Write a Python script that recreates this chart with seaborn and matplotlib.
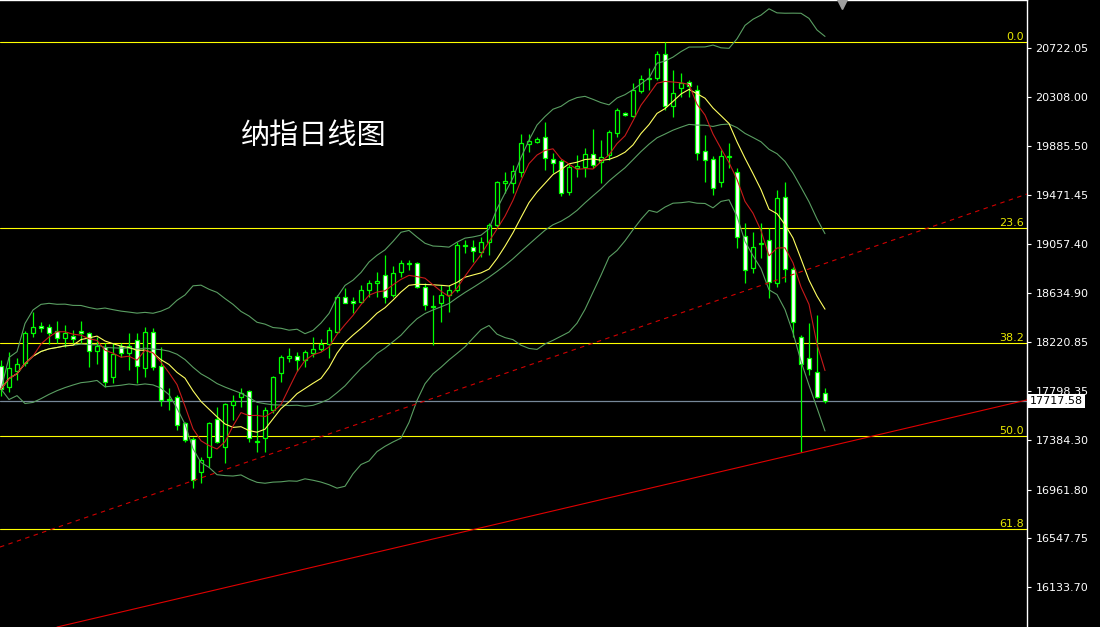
import numpy as np
import pandas as pd
import matplotlib
matplotlib.use('Agg')
import matplotlib.pyplot as plt
import matplotlib.transforms as mtransforms
import seaborn as sns

# daily candles of the index (oldest first)
opens = [18015, 17836, 17972, 18041, 18296, 18356, 18347, 18313, 18254, 18271,
         18313, 18296, 18143, 18177, 17922, 18185, 18126, 18236, 17998, 18305,
         18015, 17726, 17751, 17530, 17394, 17113, 17240, 17564, 17326, 17683,
         17751, 17802, 17368, 17402, 17640, 17956, 18083, 18100, 18066, 18126,
         18160, 18202, 18305, 18602, 18568, 18560, 18662, 18722, 18790, 18620,
         18815, 18883, 18892, 18688, 18517, 18551, 18620, 18662, 19037, 19028,
         18985, 19071, 19215, 19573, 19573, 19667, 19905, 19922, 19964, 19777,
         19760, 19496, 19700, 19709, 19820, 19752, 19811, 19999, 20169, 20143,
         20356, 20458, 20467, 20671, 20228, 20382, 20433, 20365, 19845, 19777,
         19581, 19794, 19667, 19122, 18849, 19054, 19088, 18722, 19454, 18841,
         18262, 18083, 17964, 17785]
highs = [18066, 18134, 18083, 18313, 18475, 18390, 18373, 18398, 18364, 18322,
         18398, 18305, 18262, 18211, 18211, 18211, 18296, 18296, 18347, 18339,
         18177, 17828, 17768, 17538, 17411, 17240, 17538, 17666, 17700, 17768,
         17828, 17811, 17683, 17666, 17930, 18109, 18168, 18134, 18151, 18262,
         18245, 18347, 18620, 18679, 18602, 18705, 18747, 18815, 18960, 18866,
         18917, 18917, 18900, 18722, 18620, 18705, 18705, 19071, 19088, 19088,
         19113, 19232, 19590, 19667, 19726, 19990, 19990, 19964, 20092, 19828,
         19777, 19743, 19811, 19871, 20033, 19939, 20024, 20211, 20177, 20424,
         20492, 20552, 20697, 20773, 20535, 20509, 20450, 20407, 19981, 19803,
         19854, 19913, 19701, 19232, 19156, 19232, 19190, 19513, 19581, 18858,
         18279, 18381, 18449, 17828]
lows = [17760, 17794, 17896, 18015, 18262, 18305, 18202, 18211, 18177, 18211,
        18211, 18007, 18032, 17836, 17870, 18092, 17981, 17870, 17922, 17981,
        17675, 17640, 17470, 17368, 16976, 17019, 17155, 17360, 17189, 17555,
        17666, 17368, 17283, 17283, 17615, 17879, 18049, 17972, 18007, 18092,
        18143, 18083, 18296, 18551, 18466, 18551, 18602, 18602, 18551, 18602,
        18773, 18832, 18679, 18492, 18194, 18390, 18475, 18645, 18977, 18900,
        18943, 18960, 19198, 19488, 19488, 19624, 19837, 19913, 19684, 19658,
        19462, 19471, 19624, 19624, 19701, 19573, 19769, 19964, 20143, 20135,
        20339, 20365, 20450, 20194, 20135, 20305, 20305, 19769, 19581, 19471,
        19539, 19701, 19019, 18722, 18807, 18934, 18594, 18688, 18730, 18262,
        17283, 17939, 17743, 17700]
closes = [17819, 17998, 18032, 18296, 18347, 18339, 18296, 18254, 18296, 18245,
          18296, 18143, 18185, 17879, 18117, 18126, 18185, 18015, 18305, 18007,
          17726, 17734, 17513, 17385, 17045, 17215, 17530, 17368, 17692, 17717,
          17785, 17402, 17377, 17640, 17922, 18092, 18100, 18066, 18134, 18160,
          18202, 18322, 18602, 18551, 18551, 18662, 18722, 18739, 18602, 18807,
          18892, 18892, 18687, 18534, 18526, 18620, 18662, 19045, 19045, 18994,
          19071, 19215, 19581, 19590, 19675, 19913, 19930, 19947, 19786, 19743,
          19488, 19709, 19717, 19820, 19726, 19794, 20007, 20194, 20152, 20365,
          20458, 20467, 20671, 20228, 20339, 20424, 20399, 19828, 19769, 19530,
          19803, 19803, 19113, 18832, 19028, 19062, 18730, 19445, 18841, 18390,
          18032, 17990, 17751, 17717.58]

last_price = 17717.58

# fibonacci retracement anchors and levels
fib_high = 20773
fib_low = 14066
fib_levels = [0.0, 23.6, 38.2, 50.0, 61.8]

# hand-drawn trend lines: (bar index, price) at both ends
trend_solid_x = [7.0, 128.25]
trend_solid_y = [15793, 17726]
trend_dash_x = [-0.125, 128.25]
trend_dash_y = [16474, 19479]

price_ticks = [20722.05, 20308.00, 19885.50, 19471.45, 19057.40, 18634.90,
               18220.85, 17798.35, 17384.30, 16961.80, 16547.75, 16133.70]

title = '纳指日线图'

# indicators: MA5, MA10, Bollinger(20, 2)
df = pd.DataFrame({'open': opens, 'high': highs, 'low': lows, 'close': closes})
df['idx'] = np.arange(len(df))
df['ma5'] = df['close'].rolling(5, min_periods=1).mean()
df['ma10'] = df['close'].rolling(10, min_periods=1).mean()
df['mid'] = df['close'].rolling(20, min_periods=1).mean()
sd = df['close'].rolling(20, min_periods=1).std(ddof=0)
df['upper'] = df['mid'] + 2 * sd
df['lower'] = df['mid'] - 2 * sd

sns.set_theme(style='dark', rc={'axes.facecolor': 'black', 'figure.facecolor': 'black'})
plt.rcParams['font.family'] = ['DejaVu Sans', 'Noto Sans CJK SC']

fig = plt.figure(figsize=(11, 6.27), dpi=100)
ax = fig.add_axes([0, 0, 1027 / 1100, 1])
ax.set_facecolor('black')

lime = '#00ff00'
bull = df['close'] >= df['open']

# candles
ax.vlines(df['idx'], df['low'], df['high'], color=lime, lw=0.9, zorder=2)
ax.bar(df['idx'], df['close'] - df['open'], bottom=df['open'], width=0.62,
       color=np.where(bull, 'black', 'white'), edgecolor=lime, linewidth=0.9, zorder=3)

# bollinger bands + moving averages
band_col = '#5a9e62'
for col in ['upper', 'mid', 'lower']:
    sns.lineplot(data=df, x='idx', y=col, ax=ax, color=band_col, lw=0.8, zorder=4)
sns.lineplot(data=df, x='idx', y='ma10', ax=ax, color='#ffff60', lw=0.8, zorder=4)
sns.lineplot(data=df, x='idx', y='ma5', ax=ax, color='#c81a1a', lw=0.8, zorder=4)

# fibonacci levels
for lvl in fib_levels:
    price = fib_high - lvl / 100 * (fib_high - fib_low)
    ax.axhline(price, color='#ffff00', lw=0.8, zorder=1)
    ax.text(127.9, price, f'{lvl:.1f}', color='#e8e800', ha='right', va='bottom',
            fontsize=8, zorder=5)

# trend lines
ax.plot(trend_solid_x, trend_solid_y, color='#e00000', lw=0.8, zorder=4)
ax.plot(trend_dash_x, trend_dash_y, color='#d00000', lw=0.8, ls=(0, (4, 4)), zorder=4)

# bid line
ax.axhline(last_price, color='#778899', lw=0.9, zorder=1)

ax.set_xlim(-0.125, 128.25)
ax.set_ylim(15793.2, 21130.7)
ax.set_xlabel('')
ax.set_ylabel('')
ax.set_xticks([])
ax.yaxis.tick_right()
ax.set_yticks(price_ticks)
ax.set_yticklabels([f'{v:.2f}' for v in price_ticks])
ax.tick_params(axis='y', colors='white', length=3, width=0.8, labelsize=8, pad=3)
ax.grid(False)
for side in ['left', 'bottom']:
    ax.spines[side].set_visible(False)
for side in ['right', 'top']:
    ax.spines[side].set_color('white')
    ax.spines[side].set_linewidth(1)

trans = mtransforms.blended_transform_factory(ax.transAxes, ax.transData)
ax.text(1.003, last_price, f'{last_price:.2f}', transform=trans, ha='left', va='center',
        fontsize=8, color='black', zorder=10, clip_on=False,
        bbox=dict(facecolor='white', edgecolor='none', pad=1.5))

ax.text(0.305, 0.783, title, transform=ax.transAxes, color='white', fontsize=21,
        ha='center', va='center', family=['Noto Sans CJK SC', 'DejaVu Sans'])

# chart shift marker at the top
ax.plot([0.82], [0.993], marker='v', color='#a0a0a0', ms=7, transform=ax.transAxes,
        clip_on=False, zorder=6)

fig.savefig('out.png', dpi=100, facecolor='black')
